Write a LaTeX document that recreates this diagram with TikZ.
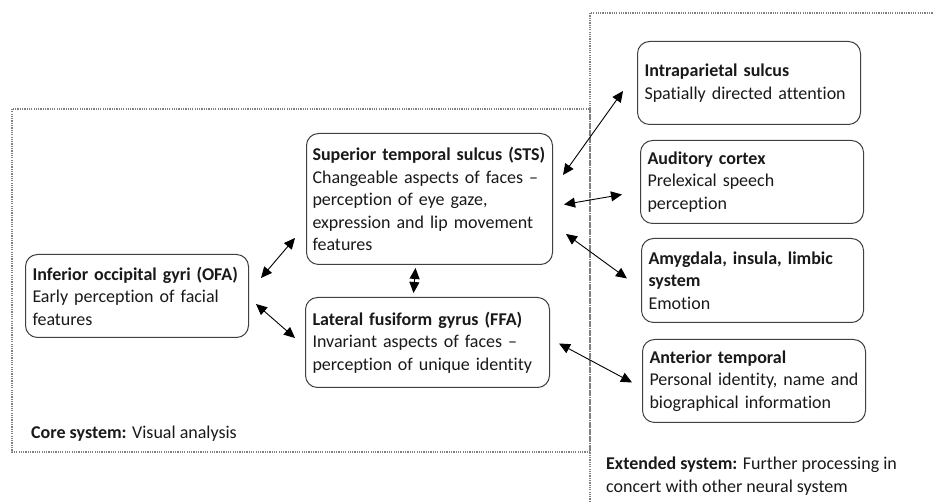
\documentclass[tikz,border=0pt]{standalone}
\usepackage{fontspec}
\setmainfont{Carlito}[Ligatures=NoCommon]
\usetikzlibrary{arrows.meta}

\begin{document}
\begin{tikzpicture}[
  x=1pt, y=1pt,
  region/.style={rectangle, draw=black!75, line width=1pt, rounded corners=12pt, anchor=north west, align=left, inner xsep=7pt, inner ysep=4pt, font=\fontsize{18}{22.5}\selectfont, text=black!90},
  system/.style={draw=black!50, line width=1.2pt, dash pattern=on 1.2pt off 1.1pt},
  note/.style={inner sep=0pt, align=left, font=\fontsize{18}{22.5}\selectfont, text=black!90},
  arrow/.style={{Triangle[length=11pt,width=10pt]}-{Triangle[length=11pt,width=10pt]}, line width=0.9pt}
]
  \useasboundingbox (0,0) rectangle (933,502);

  % core and extended system areas
  \draw[system] (12,393) rectangle (590,50);
  \draw[system] (590,0) |- (933,489);

  % core system
  \node[region, text width=209pt, minimum height=83pt] (ofa) at (25,248) {\textbf{Inferior occipital gyri (OFA)}\\Early perception of facial\\features};
  \node[region, inner xsep=6pt, text width=234pt, minimum height=131pt] (sts) at (306,369) {\textbf{Superior temporal sulcus (STS)}\\Changeable aspects of faces --\\perception of eye gaze,\\expression and lip movement\\features};
  \node[region, text width=230pt, minimum height=90pt] (ffa) at (305,205) {\textbf{Lateral fusiform gyrus (FFA)}\\Invariant aspects of faces --\\perception of unique identity};

  % extended system
  \node[region, text width=209pt, minimum height=83pt] (ips) at (637,461) {\textbf{Intraparietal sulcus}\\Spatially directed attention};
  \node[region, text width=209pt, minimum height=83pt] (aud) at (640,362) {\textbf{Auditory cortex}\\Prelexical speech\\perception};
  \node[region, text width=208pt, minimum height=84pt] (amy) at (641,264) {\textbf{Amygdala, insula, limbic}\\\textbf{system}\\Emotion};
  \node[region, text width=209pt, minimum height=83pt] (ant) at (642,163) {\textbf{Anterior temporal}\\Personal identity, name and\\biographical information};

  \node[note, anchor=base west] (core) at (31,63) {\textbf{Core system:} Visual analysis};
  \node[note, anchor=north west] (ext) at (606,45) {\textbf{Extended system:} Further processing in\\concert with other neural system};

  \draw[arrow] ([shift={(12,-24)}]ofa.north east) -- ([shift={(-11,27)}]sts.south west);
  \draw[arrow] ([shift={(7,34)}]ofa.south east) -- ([shift={(-10,-41)}]ffa.north west);
  \draw[arrow] ([shift={(-14,-3)}]sts.south) -- ([shift={(-14,4)}]ffa.north);
  \draw[arrow] ([shift={(10,-42)}]sts.north east) -- ([shift={(-14,34)}]ips.south west);
  \draw[arrow] ([shift={(11,-5.5)}]sts.east) -- ([shift={(-18,-12.5)}]aud.west);
  \draw[arrow] ([shift={(13,31)}]sts.south east) -- ([shift={(-14,2)}]amy.west);
  \draw[arrow] ([shift={(9,-1)}]ffa.east) -- ([shift={(-10,-1.5)}]ant.west);
\end{tikzpicture}
\end{document}
